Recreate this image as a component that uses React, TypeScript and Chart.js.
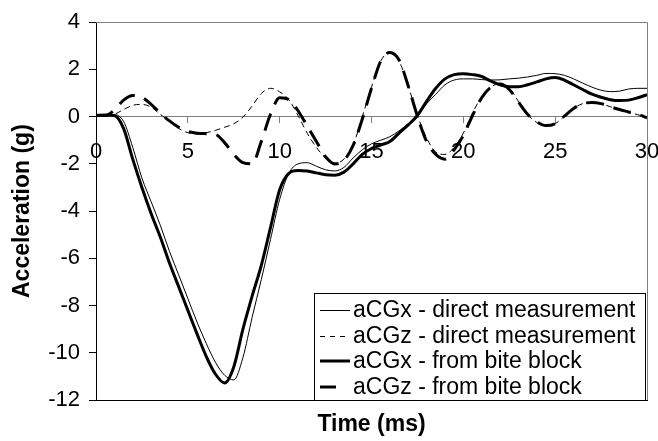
import React, { useEffect, useRef } from "react";
import { Chart, registerables } from "chart.js";

Chart.register(...registerables);

// ---------- data ----------
const TIME_MS = [
  0, 0.5, 1, 1.5, 2, 2.5, 3, 3.5, 4, 4.5, 5, 5.5, 6, 6.5, 7, 7.5, 8, 8.5, 9, 9.5,
  10, 10.5, 11, 11.5, 12, 12.5, 13, 13.5, 14, 14.5, 15, 15.5, 16, 16.5, 17, 17.5,
  18, 18.5, 19, 19.5, 20, 20.5, 21, 21.5, 22, 22.5, 23, 23.5, 24, 24.5, 25, 25.5,
  26, 26.5, 27, 27.5, 28, 28.5, 29, 29.5, 30,
];

const ACGX_DIRECT = [
  0.05, 0.07, 0.08, -0.2, -1.3, -2.6, -3.6, -4.6, -5.7, -6.7, -7.7, -8.7, -9.6, -10.4, -10.95, -11.15, -10.2, -8.5, -6.9, -5.2,
  -3.5, -2.4, -2.0, -1.95, -2.1, -2.25, -2.3, -2.15, -1.75, -1.4, -1.15, -1.0, -0.85, -0.6, -0.3, 0.05,
  0.55, 0.95, 1.35, 1.55, 1.6, 1.6, 1.57, 1.55, 1.56, 1.6, 1.63, 1.68, 1.75, 1.83, 1.82, 1.75,
  1.6, 1.42, 1.25, 1.12, 1.06, 1.08, 1.17, 1.2, 1.2,
];

const ACGZ_DIRECT = [
  0.0, 0.02, 0.1, 0.3, 0.48, 0.52, 0.4, 0.1, -0.2, -0.5, -0.68, -0.73, -0.68, -0.58, -0.45, -0.3, -0.02, 0.45, 0.98, 1.2,
  1.05, 0.72, 0.05, -0.7, -1.3, -1.75, -1.97, -1.8, -1.2, 0.0, 1.25, 2.35, 2.72, 2.35, 1.3, 0.05,
  -0.9, -1.5, -1.6, -1.3, -0.7, 0.15, 0.85, 1.25, 1.4, 1.2, 0.65, 0.1, -0.25, -0.4, -0.3, 0.02,
  0.35, 0.55, 0.6, 0.55, 0.42, 0.3, 0.18, 0.08, -0.05,
];

const ACGX_BITE = [
  0.05, 0.07, 0.05, -0.5, -1.8, -3.0, -4.1, -5.1, -6.2, -7.2, -8.2, -9.2, -10.15, -10.9, -11.28, -10.6, -9.0, -7.6, -6.3, -4.7,
  -3.1, -2.4, -2.28, -2.3, -2.38, -2.46, -2.48, -2.35, -2.0, -1.6, -1.35, -1.2, -1.05, -0.7, -0.35, 0.05,
  0.65, 1.2, 1.6, 1.78, 1.82, 1.78, 1.7, 1.5, 1.35, 1.27, 1.27, 1.35, 1.47, 1.6, 1.66, 1.55,
  1.35, 1.15, 0.95, 0.82, 0.72, 0.68, 0.7, 0.8, 0.93,
];

const ACGZ_BITE = [
  0.05, 0.05, 0.28, 0.7, 0.9, 0.82, 0.52, 0.15, -0.18, -0.45, -0.62, -0.7, -0.72, -0.75, -1.1, -1.6, -1.95, -2.0, -1.05, 0.1,
  0.8, 0.72, 0.25, -0.4, -1.05, -1.7, -2.0, -1.85, -1.22, -0.1, 1.2, 2.35, 2.72, 2.4, 1.3, 0.02,
  -1.05, -1.6, -1.8, -1.4, -0.8, 0.05, 0.8, 1.25, 1.38, 1.15, 0.62, 0.1, -0.22, -0.38, -0.3, 0.02,
  0.35, 0.55, 0.6, 0.55, 0.42, 0.3, 0.2, 0.1, -0.05,
];

const SERIES_LABELS = [
  "aCGx - direct measurement",
  "aCGz - direct measurement",
  "aCGx - from bite block",
  "aCGz - from bite block",
];

const X_TICKS = [0, 5, 10, 15, 20, 25, 30];
const Y_TICKS = [-12, -10, -8, -6, -4, -2, 0, 2, 4];
const X_TITLE = "Time (ms)";
const Y_TITLE = "Acceleration (g)";

// ---------- styling ----------
const FONT = "'Liberation Sans', Arial, Helvetica, sans-serif";

const SERIES_STYLE = [
  { width: 1, dash: [] as number[], legendDash: [] as number[] },
  { width: 1, dash: [6, 4], legendDash: [5, 5] },
  { width: 3, dash: [] as number[], legendDash: [] as number[] },
  { width: 3, dash: [18, 10], legendDash: [16, 30] },
];

const framePlugin = {
  id: "frame",
  beforeDatasetsDraw(chart: any) {
    const { ctx, chartArea } = chart;
    ctx.save();
    ctx.strokeStyle = "#808080";
    ctx.lineWidth = 1;
    ctx.beginPath();
    const t = Math.round(chartArea.top) + 0.5;
    const r = Math.round(chartArea.right) + 0.5;
    ctx.moveTo(chartArea.left, t);
    ctx.lineTo(r, t);
    ctx.lineTo(r, chartArea.bottom);
    ctx.stroke();
    ctx.restore();
  },
};

const legendBoxPlugin = {
  id: "legendBox",
  afterDraw(chart: any) {
    const { ctx, chartArea } = chart;
    const boxW = 331;
    const boxH = 107;
    const right = Math.round(chartArea.right) - 2;
    const bottom = Math.round(chartArea.bottom);
    const left = right - boxW;
    const top = bottom - boxH;
    ctx.save();
    ctx.fillStyle = "#ffffff";
    ctx.fillRect(left, top, boxW, boxH);
    ctx.strokeStyle = "#000";
    ctx.lineWidth = 1;
    ctx.strokeRect(left + 0.5, top + 0.5, boxW, boxH);
    const rowH = 25.5;
    ctx.font = `23px ${FONT}`;
    ctx.textBaseline = "middle";
    ctx.textAlign = "left";
    chart.data.datasets.forEach((ds: any, i: number) => {
      const y = top + 17 + i * rowH;
      const st = SERIES_STYLE[i];
      ctx.beginPath();
      ctx.setLineDash(st.legendDash);
      ctx.lineWidth = st.width;
      ctx.strokeStyle = "#000";
      ctx.lineCap = "butt";
      ctx.moveTo(left + 6, Math.round(y) + (st.width === 1 ? 0.5 : 0));
      ctx.lineTo(left + 36, Math.round(y) + (st.width === 1 ? 0.5 : 0));
      ctx.stroke();
      ctx.setLineDash([]);
      ctx.fillStyle = "#000";
      ctx.fillText(ds.label, left + 39, y + 1);
    });
    ctx.restore();
  },
};

export default function App() {
  const canvasRef = useRef<HTMLCanvasElement | null>(null);

  useEffect(() => {
    const canvas = canvasRef.current;
    if (!canvas) return;
    const seriesValues = [ACGX_DIRECT, ACGZ_DIRECT, ACGX_BITE, ACGZ_BITE];
    const datasets = seriesValues.map((vals, i) => ({
      label: SERIES_LABELS[i],
      data: TIME_MS.map((t, k) => ({ x: t, y: vals[k] })),
      borderColor: "#000",
      borderWidth: SERIES_STYLE[i].width,
      borderDash: SERIES_STYLE[i].dash,
      borderCapStyle: "butt" as const,
      pointRadius: 0,
      fill: false,
      cubicInterpolationMode: "monotone" as const,
      order: 4 - i,
    }));

    const chart = new Chart(canvas, {
      type: "line",
      data: { datasets },
      options: {
        responsive: false,
        maintainAspectRatio: false,
        devicePixelRatio: 1,
        animation: false,
        layout: { padding: { top: 14, right: 11, bottom: 0, left: 0 } },
        plugins: {
          legend: { display: false },
          tooltip: { enabled: false },
        },
        scales: {
          x: {
            type: "linear",
            min: 0,
            max: 30,
            position: { y: 0 },
            afterBuildTicks: (s: any) => {
              s.ticks = X_TICKS.map((v) => ({ value: v }));
            },
            afterFit: (s: any) => {
              s.paddingLeft = 0;
              s.paddingRight = 0;
            },
            ticks: {
              color: "#000",
              font: { family: FONT, size: 22 },
              padding: 16,
              maxRotation: 0,
              autoSkip: false,
            },
            grid: {
              drawOnChartArea: false,
              drawTicks: true,
              tickLength: 6,
              color: "#808080",
            },
            border: { color: "#808080", width: 1 },
          },
          xFrame: {
            type: "linear",
            axis: "x",
            min: 0,
            max: 30,
            position: "bottom",
            ticks: { display: false },
            grid: { display: false, drawTicks: false },
            border: { color: "#000", width: 1 },
            title: {
              display: true,
              text: X_TITLE,
              color: "#000",
              font: { family: FONT, size: 23, weight: "bold" },
              padding: { top: 11, bottom: 3 },
            },
            afterFit: (s: any) => {
              s.height = 41;
            },
          },
          y: {
            type: "linear",
            min: -12,
            max: 4,
            position: "left",
            afterBuildTicks: (s: any) => {
              s.ticks = Y_TICKS.map((v) => ({ value: v }));
            },
            afterFit: (s: any) => {
              s.width = 96;
            },
            ticks: {
              color: "#000",
              font: { family: FONT, size: 22 },
              padding: 9,
            },
            grid: {
              drawOnChartArea: false,
              drawTicks: true,
              tickLength: 7,
              color: "#000",
            },
            border: { color: "#000", width: 1 },
            title: {
              display: true,
              text: Y_TITLE,
              color: "#000",
              font: { family: FONT, size: 23, weight: "bold" },
              padding: { top: 9, bottom: 0 },
            },
          },
        },
      } as any,
      plugins: [framePlugin, legendBoxPlugin],
    });

    return () => {
      chart.destroy();
    };
  }, []);

  return (
    <div style={{ position: "fixed", left: 0, top: 0, width: 658, height: 441, background: "#fff" }}>
      <canvas ref={canvasRef} width={658} height={441} style={{ display: "block", width: 658, height: 441 }} />
    </div>
  );
}
